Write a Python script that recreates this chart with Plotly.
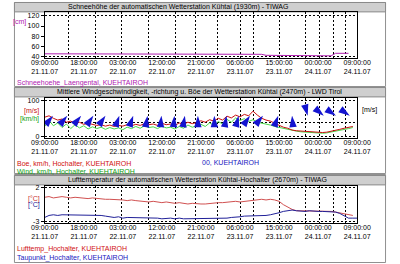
import plotly.graph_objects as go
import pandas as pd

# ---------------- data ----------------
start = pd.Timestamp("2007-11-21 09:00")
hours = list(range(73))

tick_hours = [0, 9, 18, 27, 36, 45, 54, 63, 72]
tick_labels = ["09:00:00<br>21.11.07", "18:00:00<br>21.11.07", "03:00:00<br>22.11.07",
               "12:00:00<br>22.11.07", "21:00:00<br>22.11.07", "06:00:00<br>23.11.07",
               "15:00:00<br>23.11.07", "00:00:00<br>24.11.07", "09:00:00<br>24.11.07"]
grid_hours = [5.6, 11.6, 17.8, 23.9, 30.1, 34.8, 39.8, 45.2, 48.2, 54.2, 60.2, 63.4, 66.5, 69.2]

snow_cm = [45, 45, 45, 45, 45, 45, 45, 45, 45, 45,
           45, 45, 45, 45, 45, 45, 45, 45, 45, 45,
           45, 45, 45, 45, 45, 45, 45, 45, 45, 45,
           45, 45, 45, 45, 45, 45, 45, 45, 45, 45,
           45, 45, 45, 45, 45, 45, 45, 45, 45, 45,
           44, 42, 42, 42, 42, 42, 42, 42, 42, 42,
           42, 42, 42, 42, 42, 42, 41, 46, 46, 46,
           46, None, None]

gust = [54, 58, 51, 46, 49, 40, 43, 37, 40, 34,
        37, 34, 31, 33, 29, 32, 28, 31, 29, 33,
        30, 34, 31, 36, 33, 35, 31, 37, 33, 35,
        31, 38, 34, 40, 36, 39, 44, 40, 47, 43,
        51, 46, 57, 52, 60, 55, 62, 58, 71, 60,
        51, 46, 43, 37, 31, 26, 23, 18, 16, 15,
        14, 13, 12, 13, 11, 12, 14, 17, 20, 23,
        26, 28, None]

wind = [28, 45, 30, 38, 25, 35, 22, 33, 24, 30,
        21, 27, 22, 26, 20, 25, 21, 24, 19, 26,
        22, 28, 23, 30, 25, 27, 22, 29, 24, 26,
        21, 28, 23, 32, 26, 30, 34, 28, 38, 31,
        42, 35, 48, 40, 52, 45, 50, 42, 47, 40,
        38, 35, 32, 28, 25, 22, 20, 17, 15, 13,
        12, 11, 10, 11, 9, 10, 12, 14, 16, 19,
        22, 25, None]

dir_hours = [1.9, 5.2, 8.4, 11.2, 14.0, 17.2, 20.4, 23.7, 26.9, 29.9, 32.3, 35.3,
             39.1, 41.9, 44.7, 47.3, 50.3, 53.8, 57.0, 60.6, 64.3, 67.1, 70.3]
dir_angle = [40, 40, 40, 35, 35, 20, 20, 10, 5, 5, 10, 0,
             0, 10, 15, 35, 40, 20, -5, 165, 130, 125, 125]
dir_level = [58] * len(dir_hours)

temp = [0.6, 0.7, 0.5, 0.6, 0.7, 0.6, 0.5, 0.6, 0.5, 0.5,
        0.4, 0.5, 0.4, 0.4, 0.3, 0.3, 0.3, 0.2, 0.2, 0.1,
        0.2, 0.1, 0.0, 0.0, -0.1, 0.0, -0.1, -0.2, -0.1, -0.2,
        -0.3, -0.2, -0.3, -0.4, -0.3, -0.4, -0.4, -0.4, -0.3, -0.3,
        -0.2, -0.2, -0.1, -0.1, 0.0, -0.1, 0.0, 0.1, 0.2, 0.3,
        0.3, 0.2, 0.3, 0.2, 0.0, -0.5, -0.9, -1.2, -1.4, -1.4,
        -1.5, -1.4, -1.5, -1.5, -1.4, -1.5, -1.5, -1.6, -1.7, -1.9,
        -2.0, -2.1, None]

dew = [-2.4, -2.1, -2.0, -2.1, -2.0, -2.0, -2.1, -2.0, -2.1, -2.0,
       -2.1, -2.1, -2.0, -2.1, -2.2, -2.3, -2.4, -2.3, -2.5, -2.4,
       -2.4, -2.5, -2.4, -2.5, -2.5, -2.4, -2.5, -2.6, -2.5, -2.5,
       -2.6, -2.5, -2.6, -2.6, -2.5, -2.6, -2.6, -2.6, -2.6, -2.5,
       -2.6, -2.5, -2.5, -2.4, -2.4, -2.3, -2.2, -2.2, -2.1, -2.2,
       -2.2, -2.1, -2.0, -1.9, -1.7, -1.5, -1.4, -1.3, -1.4, -1.5,
       -1.5, -1.4, -1.5, -1.5, -1.5, -1.5, -1.6, -1.6, -1.8, -2.2,
       -2.5, -2.5, -2.5]

titles = ["Schneehöhe der automatischen Wetterstation Kühtai (1930m) - TIWAG",
          "Mittlere Windgeschwindigkeit, -richtung u. Böe der Wetterstation Kühtai (2470m) - LWD Tirol",
          "Lufttemperatur der automatischen Wetterstation Kühtai-Hochalter (2670m) - TIWAG"]

# ---------------- helpers ----------------
def t(h):
    return start + pd.Timedelta(hours=h)

times = [t(h) for h in hours]
W, H = 400, 264
FONT = "Liberation Sans"

def py(px):  # pixel row -> paper y
    return 1 - px / H

def px_(x):
    return x / W

fig = go.Figure()

# snow
fig.add_trace(go.Scatter(x=times, y=snow_cm, mode="lines", line=dict(color="#b020b0", width=1),
                         xaxis="x", yaxis="y", showlegend=False))
# wind
fig.add_trace(go.Scatter(x=times, y=wind, mode="lines", line=dict(color="#48d848", width=1),
                         xaxis="x2", yaxis="y2", showlegend=False))
fig.add_trace(go.Scatter(x=times, y=gust, mode="lines", line=dict(color="#c81010", width=1),
                         xaxis="x2", yaxis="y2", showlegend=False))
fig.add_trace(go.Scatter(x=[t(h) for h in dir_hours], y=dir_level, mode="markers",
                         marker=dict(symbol="arrow", size=12, color="#1414d0", angle=dir_angle,
                                     line=dict(width=0)),
                         xaxis="x2", yaxis="y2", showlegend=False))
# temperature
fig.add_trace(go.Scatter(x=times, y=temp, mode="lines", line=dict(color="#d05050", width=1),
                         xaxis="x3", yaxis="y4", showlegend=False))
fig.add_trace(go.Scatter(x=times, y=dew, mode="lines", line=dict(color="#202098", width=1),
                         xaxis="x3", yaxis="y4", showlegend=False))

xdom = [33 / W, 369 / W]
xcommon = dict(
    domain=xdom, range=[t(0), t(72)], tickmode="array",
    tickvals=[t(h) for h in tick_hours], ticktext=tick_labels,
    showgrid=False, showline=True, mirror=True, linecolor="black", linewidth=1,
    ticks="", ticklabelstandoff=-3,
    tickfont=dict(family=FONT, size=7, color="black"), zeroline=False,
    minor=dict(tickmode="array", tickvals=[t(h) for h in grid_hours], showgrid=True,
               gridcolor="black", griddash="2px,2px", gridwidth=1, ticks=""),
)
ycommon = dict(showgrid=False, showline=True, mirror=True, linecolor="black", linewidth=1,
               ticks="outside", ticklen=3, tickcolor="black", zeroline=False,
               tickfont=dict(family=FONT, size=7, color="black"))

fig.update_layout(
    width=W, height=H, autosize=False, margin=dict(l=0, r=0, t=0, b=0),
    paper_bgcolor="white", plot_bgcolor="white", showlegend=False,
    xaxis=dict(**xcommon, anchor="y"),
    xaxis2=dict(**xcommon, anchor="y2"),
    xaxis3=dict(**xcommon, anchor="y4"),
    yaxis=dict(**ycommon, domain=[py(57), py(10)], range=[36, 128], anchor="x",
               tickvals=[40, 60, 80, 100, 120],
               minor=dict(tickmode="array", tickvals=[40, 120], showgrid=True,
                          gridcolor="black", griddash="2px,2px", gridwidth=1)),
    yaxis2=dict(**ycommon, domain=[py(138), py(97)], range=[-5.6, 108.3], anchor="x2",
                tickvals=[0, 100],
                minor=dict(tickmode="array", tickvals=[0, 40, 100], showgrid=True,
                           gridcolor="black", griddash="2px,2px", gridwidth=1)),
    yaxis3=dict(**ycommon, domain=[py(138), py(97)], range=[-5.6, 108.3], anchor="x2",
                overlaying="y2", side="right", tickvals=[0, 40, 100]),
    yaxis4=dict(**ycommon, domain=[py(224), py(186)], range=[-3.29, 2.29], anchor="x3",
                tickvals=[-3, 2], ticktext=["-3", "2"],
                minor=dict(tickmode="array", tickvals=[-3, 2], showgrid=True,
                           gridcolor="black", griddash="2px,2px", gridwidth=1)),
)

shapes = []
# panel frames
for (a, b) in [(0, 85), (86, 173), (174, 263)]:
    shapes.append(dict(type="rect", xref="paper", yref="paper", x0=px_(0.5), x1=px_(399.5),
                       y0=py(b + 0.5), y1=py(a + 0.5), line=dict(color="#909090", width=1),
                       fillcolor="rgba(0,0,0,0)", layer="below"))
# title bars
for (a, b) in [(0, 10), (86, 96), (175, 185)]:
    shapes.append(dict(type="rect", xref="paper", yref="paper", x0=px_(0.5), x1=px_(399.5),
                       y0=py(b), y1=py(a + 0.5), line=dict(color="#8a8a8a", width=1),
                       fillcolor="#cfcfcf", layer="below"))
fig.update_layout(shapes=shapes)

ann = []
for txt, cx, cy in zip(titles, [176, 199, 197], [5.5, 91.5, 180.5]):
    ann.append(dict(text=txt, x=px_(cx), y=py(cy), xref="paper", yref="paper",
                    showarrow=False, xanchor="center", yanchor="middle",
                    font=dict(family=FONT, size=7, color="black")))

def label(txt, x, y, color, anchor="left", size=7):
    ann.append(dict(text=txt, x=px_(x), y=py(y), xref="paper", yref="paper",
                    showarrow=False, xanchor=anchor, yanchor="middle",
                    font=dict(family=FONT, size=size, color=color)))

# unit labels
label("[cm]", 15, 20, "#b020b0", "right")
label("[m/s]", 29, 110, "#c81010", "right")
label("[km/h]", 29, 118, "#10a010", "right")
label("[m/s]", 372, 109, "black", "left")
label("[°C]", 30, 199, "#c83030", "right")
label("[°C]", 30, 205, "#202098", "right")

# legends
label("Schneehoehe_Laengental, KUEHTAIROH", 1, 82, "#b020b0")
label("Boe, km/h, Hochalter, KUEHTAIROH", 1, 163, "#d01010")
label("Wind, km/h, Hochalter, KUEHTAIROH", 1, 171, "#10a010")
label("00, KUEHTAIROH", 200, 162, "#1818c0")
label("Lufttemp_Hochalter, KUEHTAIROH", 1, 250, "#d01010")
label("Taupunkt_Hochalter, KUEHTAIROH", 1, 259, "#1818c0")

fig.update_layout(annotations=ann)
fig.write_html("out.html")
